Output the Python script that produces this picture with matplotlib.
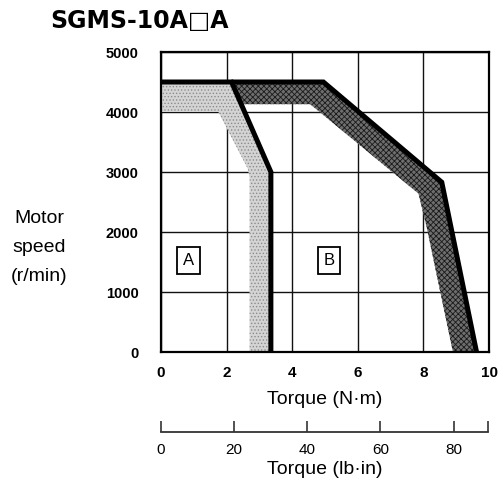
import matplotlib
matplotlib.use("Agg")
import matplotlib.pyplot as plt
from matplotlib.patches import Polygon

# ---- data ----
# Region A: speed-torque boundary (outer line) and inner edge of its shaded band
a_outer_x = [0, 2.15, 3.35, 3.35]
a_outer_y = [4500, 4500, 3000, 0]
a_inner_x = [0, 1.75, 2.65, 2.7, 2.7]
a_inner_y = [4000, 4000, 3050, 2900, 0]

# Region B: outer boundary line and inner edge of its shaded band
b_outer_x = [2.15, 4.95, 8.56, 9.62]
b_outer_y = [4500, 4500, 2830, 0]
b_inner_x = [2.45, 4.55, 7.85, 8.1, 8.9]
b_inner_y = [4130, 4130, 2640, 2080, 0]

x_ticks = [0, 2, 4, 6, 8, 10]
y_ticks = [0, 1000, 2000, 3000, 4000, 5000]
lbin_ticks = [0, 20, 40, 60, 80]
lbin_end = 89.3   # last (unlabelled) tick of the lb·in scale
lbin_lim = 89.7

region_labels = ["A", "B"]
region_pos = [(0.85, 1520), (5.12, 1520)]

plt.rcParams['font.family'] = ['Liberation Sans', 'DejaVu Sans']
plt.rcParams['hatch.linewidth'] = 0.6

W, H = 498, 487
fig = plt.figure(figsize=(W / 100, H / 100), dpi=100)
L, R, T, B = 161, 489, 52, 352
ax = fig.add_axes([L / W, 1 - B / H, (R - L) / W, (B - T) / H])
ax.set_xlim(0, 10)
ax.set_ylim(0, 5000)

# grid
for xv in x_ticks:
    ax.axvline(xv, color='#111111', lw=1.0, zorder=1)
for yv in y_ticks:
    ax.axhline(yv, color='#111111', lw=1.0, zorder=1)

# Region A shaded band (light stipple)
a_poly = list(zip(a_outer_x, a_outer_y)) + list(zip(a_inner_x[::-1], a_inner_y[::-1]))
ax.add_patch(Polygon(a_poly, closed=True, facecolor='#d4d4d4', edgecolor='#8c8c8c',
                     hatch='.....', lw=0, zorder=2))

# Region B shaded band (dark crosshatch)
b_poly = list(zip(b_outer_x, b_outer_y)) + list(zip(b_inner_x[::-1], b_inner_y[::-1]))
ax.add_patch(Polygon(b_poly, closed=True, facecolor='#6e6e6e', edgecolor='#1a1a1a',
                     hatch='xxxxxx', lw=0, zorder=3))

# boundary lines
ax.plot(a_outer_x, a_outer_y, color='black', lw=3.6, solid_joinstyle='miter',
        solid_capstyle='butt', zorder=4, clip_on=False)
ax.plot(b_outer_x, b_outer_y, color='black', lw=3.6, solid_joinstyle='miter',
        solid_capstyle='butt', zorder=4, clip_on=False)

for lab, (px, py) in zip(region_labels, region_pos):
    ax.text(px, py, lab, ha='center', va='center', fontsize=12, zorder=5,
            bbox=dict(boxstyle='square,pad=0.35', facecolor='white',
                      edgecolor='black', lw=1.3))

ax.set_xticks(x_ticks)
ax.set_yticks(y_ticks)
ax.set_xticklabels([str(v) for v in x_ticks], fontsize=11, fontweight='bold')
ax.set_yticklabels([str(v) for v in y_ticks], fontsize=10.5, fontweight='bold')
ax.tick_params(axis='x', length=0, pad=10)
ax.tick_params(axis='y', length=0, pad=16)
for sp in ax.spines.values():
    sp.set_linewidth(1.6)
    sp.set_color('black')
    sp.set_zorder(6)

# secondary (lb·in) scale
sy = 432
ax2 = fig.add_axes([L / W, 1 - sy / H, (R - L) / W, 0.0001])
ax2.set_xlim(0, lbin_lim)
ax2.set_facecolor('none')
for k in ['top', 'left', 'right']:
    ax2.spines[k].set_visible(False)
ax2.spines['bottom'].set_color('#333333')
ax2.spines['bottom'].set_linewidth(1.3)
ax2.spines['bottom'].set_bounds(0, lbin_end)
ax2.set_yticks([])
ax2.set_xticks(lbin_ticks + [lbin_end])
ax2.set_xticklabels([str(v) for v in lbin_ticks] + [''], fontsize=11)
ax2.tick_params(axis='x', direction='in', length=8, width=1.2, color='#333333', pad=8)

# texts
fig.text(50 / W, 1 - 28 / H, "SGMS-10A□A", fontsize=17, fontweight='bold',
         ha='left', va='baseline', family=['DejaVu Sans'])
fig.text(325 / W, 1 - 399 / H, "Torque (N·m)", fontsize=14, ha='center', va='center')
fig.text(325 / W, 1 - 469 / H, "Torque (lb·in)", fontsize=14, ha='center', va='center')
for s, yb in zip(["Motor", "speed", "(r/min)"], [223, 252, 281]):
    fig.text(39 / W, 1 - yb / H, s, fontsize=14, ha='center', va='baseline')

fig.savefig("out.png", dpi=100)
